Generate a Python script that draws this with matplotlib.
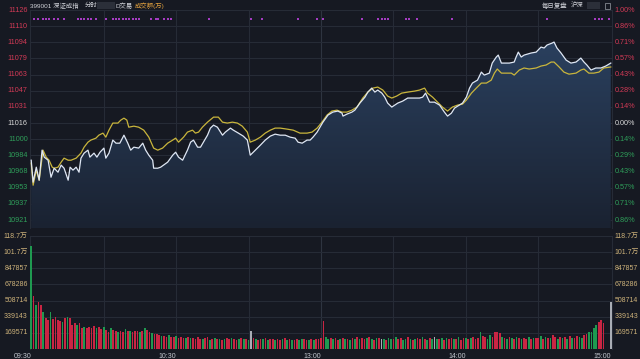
import matplotlib
matplotlib.use("Agg")
import matplotlib.pyplot as plt
from matplotlib.colors import LinearSegmentedColormap
from matplotlib.patches import Polygon, Rectangle
import numpy as np

plt.rcParams['font.family'] = ['Liberation Sans', 'Noto Sans CJK SC', 'DejaVu Sans']

# ---- data (minutes after 09:30, trading time; 120 = 11:30/13:00) ----
price_t = [0, 0.8, 2.1, 3.3, 4.5, 5.4, 7.0, 8.2, 9.5, 11.1, 12.4, 13.6, 15.3, 16.1, 17.3, 18.6,
           19.8, 20.6, 21.9, 23.5, 24.3, 26.0, 27.2, 28.5, 30.1, 30.9, 32.2, 33.8, 35.1, 36.7,
           38.4, 40.0, 41.2, 42.5, 44.5, 46.2, 47.4, 48.7, 50.3, 50.7, 52.4, 53.6, 56.5, 58.6,
           59.8, 61.0, 62.7, 64.7, 66.0, 67.2, 68.9, 70.1, 71.3, 73.0, 74.2, 75.5, 77.1, 78.4,
           79.2, 80.4, 82.5, 83.7, 85.8, 87.8, 89.5, 90.7, 92.8, 94.9, 96.9, 99.0, 101.0, 103.1,
           105.2, 107.2, 109.3, 110.5, 112.2, 114.2, 115.5, 116.7, 118.4, 119.6, 120.8, 122.9,
           124.9, 127.0, 128.7, 129.1, 130.7, 132.8, 134.0, 136.1, 138.2, 139.4, 141.0, 142.3,
           143.5, 145.2, 146.4, 147.6, 149.3, 150.5, 151.8, 153.8, 155.9, 158.0, 160.8, 162.1,
           163.3, 165.0, 167.0, 169.1, 171.1, 172.4, 174.0, 175.3, 177.3, 178.6, 180.2, 181.5,
           182.7, 184.8, 186.4, 187.6, 189.7, 190.9, 192.6, 193.4, 194.7, 196.7, 198.0, 200.0,
           200.8, 201.7, 202.9, 204.1, 207.0, 209.1, 211.1, 212.4, 213.6, 215.7, 216.5, 217.7,
           219.4, 221.5, 223.5, 225.6, 227.6, 228.9, 230.1, 231.8, 233.8, 235.9, 237.9, 240.0]
price = [10980.0, 10958.6, 10973.2, 10960.5, 10989.8, 10983.0, 10980.0, 10963.4, 10972.2, 10968.3,
         10975.2, 10972.2, 10960.5, 10973.2, 10970.3, 10973.2, 10968.3, 10982.0, 10986.9, 10989.8,
         10983.0, 10986.9, 10983.0, 10987.8, 10991.8, 10982.0, 10986.9, 10999.6, 10996.6, 10996.6,
         11004.4, 10996.6, 10989.8, 10992.7, 10991.8, 10996.6, 10989.8, 10984.9, 10980.0, 10972.2,
         10972.2, 10973.2, 10978.1, 10984.9, 10987.8, 10983.0, 10980.0, 10989.8, 10997.6, 10999.6,
         10992.7, 10992.7, 10997.6, 11004.4, 11011.3, 11014.2, 11012.2, 11007.4, 11004.4, 11007.4,
         11011.3, 11009.3, 11006.4, 11003.5, 10999.6, 10984.9, 10989.8, 10994.7, 10999.6, 11003.5,
         11005.4, 11004.4, 11004.4, 11002.5, 11001.5, 10997.6, 10996.6, 10999.6, 10999.6, 11002.5,
         11007.4, 11012.2, 11017.1, 11024.0, 11026.9, 11027.9, 11025.9, 11023.0, 11024.9, 11026.9,
         11028.8, 11035.7, 11041.5, 11046.4, 11050.3, 11046.4, 11048.4, 11045.4, 11041.5, 11035.7,
         11031.8, 11033.7, 11035.7, 11037.6, 11040.6, 11040.6, 11040.6, 11041.5, 11045.4, 11036.6,
         11036.6, 11033.7, 11026.9, 11023.0, 11025.9, 11030.8, 11033.7, 11035.7, 11041.5, 11050.3,
         11055.2, 11058.1, 11065.9, 11063.0, 11064.9, 11074.7, 11080.6, 11082.5, 11074.7, 11074.7,
         11074.7, 11075.7, 11080.6, 11085.4, 11080.6, 11082.5, 11084.5, 11085.4, 11090.3, 11089.4,
         11092.3, 11094.2, 11095.2, 11089.4, 11084.5, 11077.6, 11074.7, 11075.7, 11079.6, 11075.7,
         11072.8, 11067.9, 11069.9, 11069.9, 11071.8, 11074.7]

avg_t = [0, 0.8, 2.1, 3.3, 4.9, 6.2, 7.4, 8.7, 9.5, 11.1, 12.4, 13.6, 15.3, 16.5, 18.6, 20.6,
         21.9, 23.5, 24.7, 26.8, 28.0, 29.7, 30.9, 32.2, 33.8, 35.9, 37.1, 38.4, 39.6, 40.4,
         42.5, 44.5, 46.6, 48.7, 50.7, 52.4, 54.4, 56.5, 58.6, 59.8, 61.0, 63.1, 64.7, 66.8,
         68.0, 69.3, 70.9, 73.0, 75.5, 77.5, 79.2, 81.2, 83.3, 85.4, 87.4, 89.5, 90.7, 92.8,
         94.9, 96.9, 99.0, 101.0, 103.1, 106.0, 108.5, 111.3, 114.2, 116.3, 118.4, 120.4,
         122.5, 124.5, 126.6, 128.7, 130.7, 132.8, 134.9, 137.3, 139.4, 141.5, 143.5, 145.6,
         147.6, 149.3, 151.3, 153.4, 155.9, 158.8, 160.8, 162.9, 164.1, 166.2, 168.3, 170.3,
         172.4, 174.4, 176.5, 178.6, 180.2, 182.3, 184.3, 186.4, 188.5, 190.5, 191.8, 193.0,
         194.7, 196.7, 198.8, 200.0, 202.1, 204.1, 206.2, 209.1, 211.1, 213.2, 215.3, 216.5,
         218.6, 220.6, 222.7, 225.6, 227.6, 228.9, 230.9, 233.0, 235.1, 237.1, 240.0]
avg_price = [10977.1, 10955.6, 10970.3, 10960.5, 10989.8, 10983.0, 10980.0, 10973.2, 10972.2, 10973.2,
             10978.1, 10982.0, 10980.0, 10980.0, 10982.0, 10986.9, 10992.7, 10997.6, 10999.6, 11001.5,
             11004.4, 11006.4, 11002.5, 11009.3, 11016.2, 11016.2, 11019.1, 11021.0, 11019.1, 11012.2,
             11013.2, 11012.2, 11009.3, 11002.5, 10991.8, 10989.8, 10991.8, 10996.6, 10999.6, 11001.5,
             10997.6, 11002.5, 11007.4, 11009.3, 11006.4, 11007.4, 11012.2, 11017.1, 11022.0, 11022.0,
             11017.1, 11016.2, 11017.1, 11016.2, 11013.2, 11007.4, 10997.6, 10999.6, 11002.5, 11006.4,
             11009.3, 11011.3, 11011.3, 11010.3, 11009.3, 11006.4, 11006.4, 11007.4, 11011.3, 11017.1,
             11024.0, 11027.9, 11028.8, 11026.9, 11026.9, 11028.8, 11031.8, 11040.6, 11046.4, 11050.3,
             11051.3, 11048.4, 11042.5, 11040.6, 11042.5, 11045.4, 11046.4, 11047.4, 11048.4, 11050.3,
             11045.4, 11041.5, 11036.6, 11031.8, 11027.9, 11031.8, 11033.7, 11034.7, 11038.6, 11045.4,
             11050.3, 11055.2, 11055.2, 11058.1, 11064.9, 11068.9, 11064.9, 11064.9, 11064.9, 11063.0,
             11067.9, 11069.9, 11068.9, 11069.9, 11071.8, 11072.8, 11075.7, 11075.7, 11070.9, 11065.9,
             11063.9, 11064.9, 11067.9, 11068.9, 11064.9, 11064.9, 11065.9, 11069.9, 11070.9]

# volume per minute, thousands
volume_k = [1082, 557, 462, 494, 462, 389, 326, 305, 389, 315,
            336, 305, 294, 284, 326, 336, 326, 252, 273, 252,
            273, 220, 231, 220, 230, 218, 240, 225, 235, 210,
            231, 200, 179, 220, 200, 185, 179, 190, 179, 210,
            190, 185, 179, 190, 185, 179, 186, 220, 200, 179,
            168, 160, 158, 147, 140, 135, 126, 147, 130, 126,
            135, 120, 130, 115, 120, 126, 112, 118, 108, 125,
            110, 104, 118, 122, 98, 106, 115, 102, 110, 96,
            108, 120, 104, 112, 100, 95, 110, 118, 102, 106,
            98, 189, 112, 104, 96, 108, 100, 115, 94, 102,
            110, 98, 105, 92, 100, 112, 96, 104, 90, 98,
            106, 94, 100, 108, 92, 98, 104, 96, 102, 110,
            118, 294, 124, 110, 116, 104, 112, 98, 106, 120,
            102, 110, 96, 115, 104, 124, 108, 118, 100, 112,
            128, 106, 98, 114, 120, 104, 110, 96, 118, 102,
            108, 125, 100, 112, 96, 104, 130, 110, 98, 106,
            114, 100, 122, 108, 96, 118, 104, 126, 110, 100,
            112, 98, 120, 106, 115, 102, 110, 124, 98, 116,
            120, 104, 112, 130, 108, 118, 178, 140, 122, 110,
            150, 126, 175, 180, 170, 130, 118, 108, 124, 112,
            106, 130, 115, 104, 120, 110, 128, 100, 118, 112,
            120, 140, 108, 125, 112, 118, 150, 130, 110, 122,
            115, 128, 108, 135, 120, 112, 140, 126, 118, 150,
            160, 175, 180, 220, 252, 284, 305, 273, 0, 0,
            494]
# r = up, g = down, w = flat
vol_dir = ("grgrrgrrgr" "rrrgrgrrrg" "rrgrrrrgrr" "grrgrrgrrg" "rgrrrgrgrr"
           "grrrgrrgrr" "grrrgrgrrr" "rgrrgrgrgr" "grrgrrgrgr" "gwrgrrgrgr"
           "rgrrgrgrgr" "rggrrgrgrr" "rrggrgrrgr" "grgrgrgrrg" "rgrgrwgrgg"
           "rgrrggrgrg" "rrgrgrgwgr" "grgrrgrgrr" "grgrrrgrrg" "grrrrgrgrg"
           "rgrgrrgrgr" "rgrgrgrrgr" "grgrgrrggr" "rggggrrrrr" "w")

# unusual-move markers along the top (minutes)
alert_t = [1.2, 2.9, 4.9, 6.2, 7.4, 9.5, 11.1, 13.6, 19.4, 20.6, 21.9, 23.5, 24.7, 26.8,
           30.9, 33.8, 35.1, 36.3, 37.9, 39.2, 40.4, 42.1, 43.3, 44.5, 49.5, 51.5, 52.4,
           54.8, 56.5, 57.7, 73.8, 91.1, 95.7, 110.5, 118.4, 120.8, 136.9, 143.5, 145.2,
           146.4, 147.6, 155.1, 156.3, 159.6, 174.4, 213.6, 233.4, 235.1, 236.3, 239.2]

pre_close = 11016.2
price_step = 15.75
price_labels = ["11126", "11110", "11094", "11079", "11063", "11047", "11031",
                "11016", "11000", "10984", "10968", "10953", "10937", "10921"]
pct_labels = ["1.00%", "0.86%", "0.71%", "0.57%", "0.43%", "0.28%", "0.14%",
              "0.00%", "0.14%", "0.29%", "0.43%", "0.57%", "0.71%", "0.86%"]
vol_step = 169571.4
vol_labels = ["169571", "339143", "508714", "678286", "847857", "101.7万", "118.7万"]
time_ticks = [0, 60, 120, 180, 240]
time_labels = ["09:30", "10:30", "13:00", "14:00", "15:00"]

# ---- style ----
BG = "#161922"
GRID = "#262b36"
RED = "#c92543"
GREEN = "#1f9950"
WHITE_LINE = "#dfe7f4"
YELLOW = "#c9b53c"
VOL_TXT = "#cdb27a"

W, H = 640, 359
fig = plt.figure(figsize=(W / 100, H / 100), dpi=100, facecolor=BG)


def px_axes(x0, y0, x1, y1):
    return fig.add_axes([x0 / W, 1 - y1 / H, (x1 - x0) / W, (y1 - y0) / H])


ax = px_axes(30, 10, 612, 228)
axv = px_axes(30, 236, 612, 349)

xmin, xmax = -0.5, 240.5
top = pre_close + 7 * price_step
bottom = top - (top - (pre_close - 6 * price_step)) * 218 / 210

for a in (ax, axv):
    a.set_facecolor(BG)
    a.set_xlim(xmin, xmax)
    a.set_xticks([])
    a.set_yticks([])
    for side in ("top", "bottom"):
        a.spines[side].set_visible(False)
    for side in ("left", "right"):
        a.spines[side].set_color(GRID)
        a.spines[side].set_linewidth(0.8)
        a.spines[side].set_zorder(0.5)
    for m in (30, 60, 90, 120, 150, 180, 210):
        a.axvline(m, color="#2e3440" if m == 120 else GRID, lw=0.8, zorder=0)

ax.set_ylim(bottom, top)

# horizontal grid + labels, price panel
for k, (pl, cl) in enumerate(zip(price_labels, pct_labels)):
    lvl = pre_close + (7 - k) * price_step
    ax.axhline(lvl, color=GRID, lw=0.8, zorder=0)
    c = "#d23a56" if k < 7 else ("#d8d8d8" if k == 7 else "#2f9e5a")
    ax.text(-0.004, lvl, pl, transform=ax.get_yaxis_transform(), ha="right", va="center",
            fontsize=5.2, color=c)
    ax.text(1.004, lvl, cl, transform=ax.get_yaxis_transform(), ha="left", va="center",
            fontsize=5.2, color=c)

# area under price line with vertical gradient
verts = [(price_t[0], bottom)] + list(zip(price_t, price)) + [(price_t[-1], bottom)]
clip = Polygon(verts, closed=True, facecolor="none", edgecolor="none")
ax.add_patch(clip)
cmap = LinearSegmentedColormap.from_list("fill", ["#1a2231", "#2d4566"])
grad = np.linspace(0, 1, 256).reshape(-1, 1)
im = ax.imshow(grad, extent=[xmin, xmax, bottom, top], aspect="auto", cmap=cmap,
               origin="lower", zorder=1)
im.set_clip_path(clip)

ax.plot(avg_t, avg_price, color=YELLOW, lw=0.9, zorder=3)
ax.plot(price_t, price, color=WHITE_LINE, lw=0.9, zorder=4)

ax.scatter(alert_t, [0.959] * len(alert_t), transform=ax.get_xaxis_transform(),
           s=1.2, color="#a53cc2", marker="s", linewidths=0, zorder=5)

# volume panel
axv.set_ylim(0, 7 * vol_step)
for k, lab in enumerate(vol_labels):
    lvl = (k + 1) * vol_step
    axv.axhline(lvl, color=GRID, lw=0.8, zorder=0)
    for xf, ha in ((-0.004, "right"), (1.004, "left")):
        axv.text(xf, lvl, lab, transform=axv.get_yaxis_transform(), ha=ha, va="center",
                 fontsize=5, color=VOL_TXT)
axv.axhline(0, color=GRID, lw=0.8, zorder=0)

dir_color = {"r": RED, "g": GREEN, "w": "#a9adb5"}
minutes = np.arange(len(volume_k))
axv.bar(minutes, np.array(volume_k) * 1000, width=0.7, linewidth=0,
        color=[dir_color[d] for d in vol_dir], zorder=2)

for m, lab in zip(time_ticks, time_labels):
    axv.text(m, -0.035, lab, transform=axv.get_xaxis_transform(), ha="right", va="top",
             fontsize=5, color="#c3c7cf")

# header
def ftext(x, y, s, **kw):
    fig.text(x / W, 1 - y / H, s, va="center", **kw)

ftext(30, 5.5, "399001 深证成指", fontsize=4.6, color="#d2d4da")
ftext(85, 5.5, "分时", fontsize=4.6, color="#d2d4da")
fig.patches.append(Rectangle((97 / W, 1 - 9 / H), 18 / W, 7 / H, transform=fig.transFigure,
                             facecolor="#3a3f4a", edgecolor="none", alpha=0.6))
ftext(115, 5.5, "D交易", fontsize=4.6, color="#d2d4da")
ftext(135, 5.5, "成交额(万)", fontsize=4.6, color="#e2a13e")
ftext(542, 5.5, "每日复盘", fontsize=4.6, color="#d2d4da")
ftext(571, 5.5, "沪深", fontsize=4.6, color="#d2d4da")
fig.patches.append(Rectangle((587 / W, 1 - 9 / H), 13 / W, 7 / H, transform=fig.transFigure,
                             facecolor="#3a3f4a", edgecolor="none", alpha=0.6))
fig.patches.append(Rectangle((605 / W, 1 - 8.5 / H), 5 / W, 6 / H, transform=fig.transFigure,
                             facecolor="none", edgecolor="#9a9ea6", lw=0.5))

fig.savefig("out.png", dpi=100, facecolor=BG)
